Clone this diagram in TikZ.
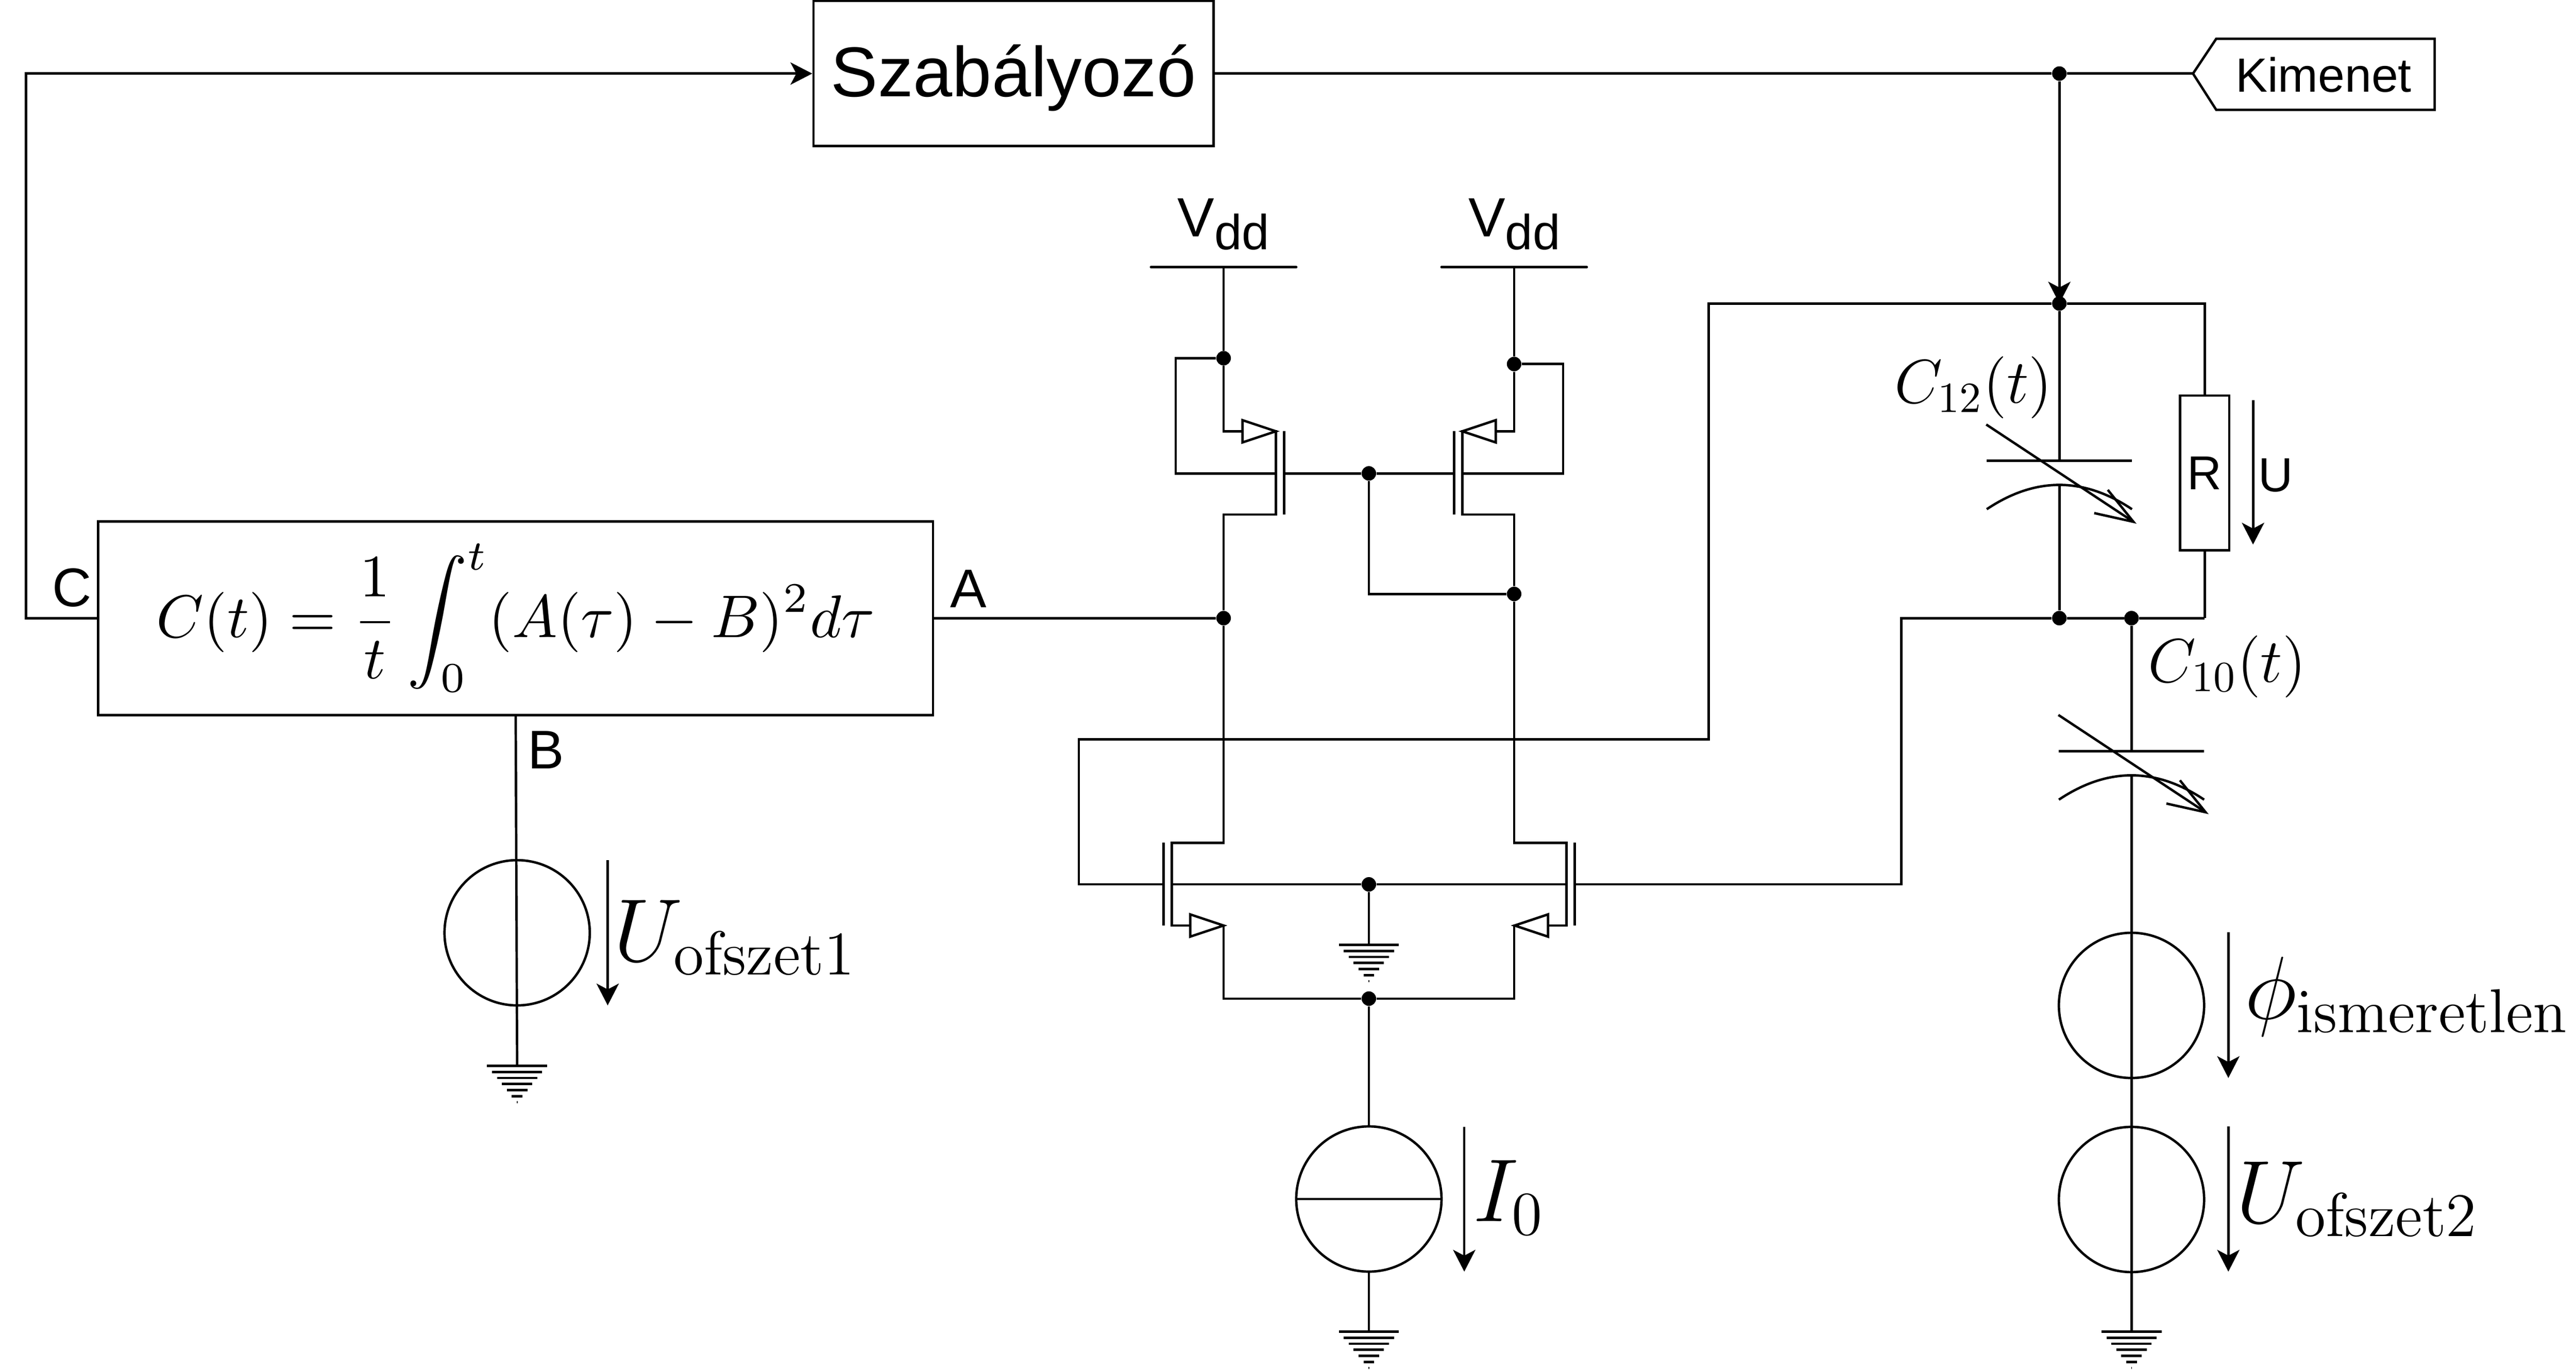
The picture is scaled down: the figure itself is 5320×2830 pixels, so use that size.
\documentclass[tikz,border=0pt]{standalone}
\usepackage[no-math]{fontspec}
\setmainfont{Liberation Sans}
\usepackage{graphicx}
\usetikzlibrary{arrows.meta}

\tikzset{
    wire/.style={line width=0.5mm},
    dotnode/.style={circle, fill=black, inner sep=0pt, minimum size=3mm},
    srcnode/.style={circle, draw, wire, inner sep=0pt, minimum size=30mm},
    lbl/.style={inner sep=0pt, anchor=base west, font=\fontsize{32}{32}\selectfont},
    smalllbl/.style={lbl, font=\fontsize{28.2}{28.2}\selectfont},
    mathlbl/.style={inner sep=0pt, anchor=base west, scale=3.04, font=\LARGE},
    capname/.style={inner sep=0pt, anchor=base west, scale=2.53, font=\Large},
    mosgate/.style={wire, fill=white}
}

% Fold szimbolum
\newcommand{\ground}[2]{
    \coordinate (#1) at (#2);
    \foreach \i in {0,...,6}
        \draw[wire] (#1) ++({-62+10.2*\i},{12.5*\i}) -- ++({124-20.4*\i},0);
}
% Valtoztathato kondenzator
\newcommand{\varcap}[2]{
    \begin{scope}[shift={(#2)}]
        \coordinate (#1t) at (0,0);
        \coordinate (#1b) at (0,50);
        \draw[wire] (-150,0) -- (150,0);
        \draw[wire] (-150,100) .. controls (-50,33) and (50,33) .. (150,100);
        \draw[wire] (-151,-75) -- (153,126);
        \draw[wire, line join=miter] (100,60) -- (153,126) -- (72,108);
    \end{scope}
}
\newcommand{\vdd}{{\fontsize{32.5}{32.5}\selectfont V}\raisebox{-2.6mm}{\fontsize{29}{29}\selectfont dd}}

\begin{document}
\begin{tikzpicture}[x=0.1mm, y=-0.1mm, >={Stealth[length=4.5mm, width=4.6mm, inset=1.2mm]}]
    \useasboundingbox (0,0) rectangle (5320,2830);

    % Szabalyozo es kimenet
    \node[draw, wire, inner sep=0pt, minimum width=82.6mm, minimum height=30mm, text height=12mm, text depth=2.4mm, font=\fontsize{41.5}{41.5}\selectfont] (szab) at (2093,152) {Szabályozó};
    \coordinate (tagtip) at (4529,152);
    \draw[wire] (tagtip) -- (4577,80) -- (5028,80) -- (5028,227) -- (4577,227) -- cycle;
    \node[smalllbl] (kimenet) at (4616,190) {Kimenet};
    \node[dotnode] (dk) at (4253,152) {};
    \draw[wire] (szab.east) -- (dk) -- (tagtip);

    % Integralo blokk
    \node[draw, wire, inner sep=0pt, minimum width=172.4mm, minimum height=40mm] (cbox) at (1065,1277)
        {\scalebox{3.54}{$\displaystyle C(t)=\frac{1}{t}\int_{0}^{t}(A(\tau)-B)^2d\tau$}};
    \coordinate (fbk) at (54,152);
    \draw[wire, ->] (cbox.west) -| (fbk) -- (szab.west);
    \node[lbl] (lc) at (107,1253) {C};
    \node[lbl] (la) at (1962,1255) {A};
    \node[lbl] (lb) at (1089,1588) {B};

    % Tap
    \foreach \n/\x in {vl/2527, vr/3127} {
        \coordinate (\n) at (\x,552);
        \draw[wire, line cap=round] (\x-150,552) -- (\x+150,552);
    }
    \node[inner sep=0pt, anchor=base west] (vddl) at (2431,489) {\vdd};
    \node[inner sep=0pt, anchor=base west] (vddr) at (3032,489) {\vdd};

    % Felso tranzisztorok
    \node[dotnode] (dpl) at (2527,740) {};
    \node[dotnode] (dpr) at (3127,752) {};
    \node[dotnode] (dg) at (2827,978) {};
    \node[dotnode] (dz) at (3127,1227) {};
    \node[dotnode] (da) at (2527,1277) {};
    \coordinate (lsp) at (2527,891);
    \coordinate (ldp) at (2527,1063);
    \coordinate (rsp) at (3127,891);
    \coordinate (rdp) at (3127,1063);
    \coordinate (lcp) at (2635,978);
    \coordinate (rcp) at (3020,978);
    \coordinate (lgp) at (2652,978);
    \coordinate (rgp) at (3003,978);
    \coordinate (llp) at (2428,740);
    \coordinate (rlp) at (3228,752);
    \draw[wire] (vl) -- (dpl) -- (lsp) -- (2635,891) -- (2635,1063) -- (ldp) -- (da);
    \draw[wire] (vr) -- (dpr) -- (rsp) -- (3020,891) -- (3020,1063) -- (rdp) -- (dz);
    \draw[wire] (dpl) -- (llp) |- (lcp);
    \draw[wire] (dpr) -- (rlp) |- (rcp);
    \draw[wire] (2652,891) -- (2652,1063);
    \draw[wire] (3003,891) -- (3003,1063);
    \draw[wire] (lgp) -- (dg) -- (rgp);
    \draw[wire] (dg) |- (dz);
    \draw[mosgate] (2566,868) -- (2635,891) -- (2566,914) -- cycle;
    \draw[mosgate] (3089,868) -- (3020,891) -- (3089,914) -- cycle;

    % Also tranzisztorok
    \node[dotnode] (db) at (2827,1827) {};
    \node[dotnode] (ds) at (2827,2063) {};
    \coordinate (ldn) at (2527,1741);
    \coordinate (rdn) at (3127,1741);
    \coordinate (lsn) at (2527,1912);
    \coordinate (rsn) at (3127,1912);
    \coordinate (lbn) at (2420,1827);
    \coordinate (rbn) at (3235,1827);
    \coordinate (lgn) at (2403,1827);
    \coordinate (rgn) at (3252,1827);
    \draw[wire] (da) -- (ldn) -- (2420,1741) -- (2420,1912) -- (lsn) -- (2527,2063) -- (ds);
    \draw[wire] (dz) -- (rdn) -- (3235,1741) -- (3235,1912) -- (rsn) -- (3127,2063) -- (ds);
    \draw[wire] (2403,1741) -- (2403,1912);
    \draw[wire] (3252,1741) -- (3252,1912);
    \draw[wire] (lbn) -- (db) -- (rbn);
    \draw[mosgate] (2458,1889) -- (2527,1912) -- (2458,1935) -- cycle;
    \draw[mosgate] (3197,1889) -- (3128,1912) -- (3197,1935) -- cycle;
    \draw[wire] (cbox.east) -- (da);

    % Kereszt vezetekek
    \node[dotnode] (dt) at (4253,627) {};
    \node[dotnode] (dm) at (4253,1277) {};
    \node[dotnode] (dn) at (4402,1277) {};
    \coordinate (crossl) at (2228,1527);
    \coordinate (crossr) at (3529,627);
    \coordinate (outr) at (3927,1277);
    \coordinate (rtop) at (4553,627);
    \coordinate (rbot) at (4553,1277);
    \draw[wire] (lgn) -| (crossl) -| (crossr) -- (dt);
    \draw[wire] (rgn) -| (outr) -- (dm) -- (dn) -- (rbot);

    % Kondenzatorok es ellenallas
    \draw[wire, ->] (dk) -- (dt.center);
    \varcap{ca}{4253,952}
    \varcap{cb}{4402,1552}
    \draw[wire] (dt) -- (cat);
    \draw[wire] (cab) -- (dm);
    \draw[wire] (dn) -- (cbt);
    \node[draw, wire, inner sep=0pt, minimum width=10.2mm, minimum height=32mm, font=\fontsize{28}{28}\selectfont] (rr) at (4553,977) {R};
    \draw[wire] (dt) -- (rtop) -- (rr.north);
    \draw[wire] (rr.south) -- (rbot);
    \node[capname] (lc12) at (3911,833) {$C_{12}(t)$};
    \node[capname] (lc10) at (4435,1409) {$C_{10}(t)$};
    \node[smalllbl] (lu) at (4663,1016) {U};

    % Forrasok
    \node[srcnode] (uo1) at (1068,1927) {};
    \node[srcnode] (i0) at (2827,2477) {};
    \node[srcnode] (phi) at (4402,2077) {};
    \node[srcnode] (uo2) at (4402,2478) {};
    \ground{g1}{1068,2202}
    \ground{g2}{2827,1952}
    \ground{g3}{2827,2751}
    \ground{g4}{4402,2751}
    \draw[wire] (cbox.south) -- (g1);
    \draw[wire] (db) -- (g2);
    \draw[wire] (ds) -- (i0.north);
    \draw[wire] (i0.west) -- (i0.east);
    \draw[wire] (i0.south) -- (g3);
    \draw[wire] (cbb) -- (g4);

    % Feszultseg nyilak
    \foreach \n/\x/\ya/\yb in {ua/4653/827/1125, ub/1255/1777/2077, uc/3024/2328/2627, ud/4602/1926/2227, ue/4602/2327/2627} {
        \coordinate (\n a) at (\x,\ya);
        \coordinate (\n b) at (\x,\yb);
        \draw[wire, ->] (\n a) -- (\n b);
    }
    \node[mathlbl] (luo1) at (1266,1986) {$U_{\mathrm{ofszet1}}$};
    \node[mathlbl] (li0) at (3040,2523) {$I_0$};
    \node[mathlbl] (lphi) at (4634,2105) {$\phi_{\mathrm{ismeretlen}}$};
    \node[mathlbl] (luo2) at (4616,2526) {$U_{\mathrm{ofszet2}}$};
\end{tikzpicture}
\end{document}
